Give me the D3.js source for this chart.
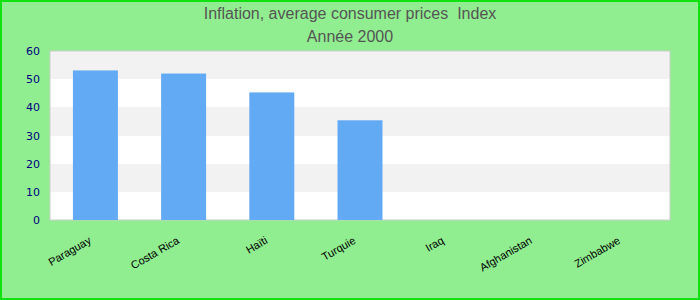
<!DOCTYPE html>
<html>
<head>
    <meta charset="utf-8">
    <title>Inflation, average consumer prices Index</title>
    <script src="https://d3js.org/d3.v7.min.js"></script>
    <style>
        body { margin: 0; }
        .title { font: 16px "Liberation Sans", Arial, sans-serif; fill: #555; text-anchor: middle; white-space: pre; }
        .yaxis text { font: 11px "DejaVu Sans", sans-serif; fill: #000080; }
        .xaxis text { font: 11px "Liberation Sans", Arial, sans-serif; fill: #000; }
        .stripe { shape-rendering: crispEdges; }
    </style>
</head>
<body>
    <div id="chart"></div>
    <script>
        var countries = ["Paraguay", "Costa Rica", "Haïti", "Turquie", "Iraq", "Afghanistan", "Zimbabwe"];
        var values = [53.1, 52.0, 45.3, 35.4, null, null, null];
        var yTicks = [0, 10, 20, 30, 40, 50, 60];

        var width = 700,
            height = 300,
            margin = {top: 51, right: 30, bottom: 80, left: 50};

        var svg = d3.select("#chart").append("svg")
            .attr("width", width)
            .attr("height", height);

        svg.append("rect")
            .attr("x", 1).attr("y", 1)
            .attr("width", width - 2).attr("height", height - 2)
            .style("fill", "#90ee90")
            .style("stroke", "#11e011")
            .style("stroke-width", 2);

        svg.append("text").attr("class", "title")
            .attr("x", width / 2).attr("y", 19)
            .text("Inflation, average consumer prices  Index");
        svg.append("text").attr("class", "title")
            .attr("x", width / 2).attr("y", 42)
            .text("Année 2000");

        var x = d3.scaleBand()
            .domain(countries)
            .range([margin.left, width - margin.right])
            .paddingInner(0.49)
            .paddingOuter(0.26);

        var y = d3.scaleLinear()
            .domain([0, 60])
            .range([height - margin.bottom, margin.top]);

        // stripes
        svg.selectAll(".stripe")
            .data(d3.pairs(yTicks))
            .enter().append("rect")
            .attr("class", "stripe")
            .attr("x", margin.left)
            .attr("y", function(d) { return Math.round(y(d[1])); })
            .attr("width", width - margin.left - margin.right)
            .attr("height", function(d) { return Math.round(y(d[0])) - Math.round(y(d[1])); })
            .style("fill", function(d, i) { return i % 2 ? "#f2f2f2" : "#ffffff"; });

        svg.append("rect")
            .attr("x", margin.left)
            .attr("y", margin.top)
            .attr("width", width - margin.left - margin.right)
            .attr("height", height - margin.top - margin.bottom)
            .style("fill", "none")
            .style("stroke", "#cccccc");

        svg.selectAll(".bar")
            .data(countries.map(function(c, i) { return {name: c, value: values[i]}; })
                .filter(function(d) { return d.value != null; }))
            .enter().append("rect")
            .attr("class", "bar")
            .attr("x", function(d) { return x(d.name); })
            .attr("y", function(d) { return y(d.value); })
            .attr("width", x.bandwidth())
            .attr("height", function(d) { return y(0) - y(d.value); })
            .style("fill", "#63aaf5");

        var yAxis = svg.append("g")
            .attr("class", "yaxis")
            .attr("transform", "translate(" + (margin.left - 10) + ",0)")
            .call(d3.axisLeft(y).tickValues(yTicks).tickSize(0).tickPadding(0));
        yAxis.select(".domain").remove();

        var xAxis = svg.append("g")
            .attr("class", "xaxis")
            .attr("transform", "translate(0," + (height - margin.bottom) + ")")
            .call(d3.axisBottom(x).tickSize(0));
        xAxis.select(".domain").remove();
        xAxis.selectAll("text")
            .attr("text-anchor", "end")
            .attr("dy", 0)
            .attr("transform", "translate(-5,20) rotate(-30)");
    </script>
</body>
</html>
